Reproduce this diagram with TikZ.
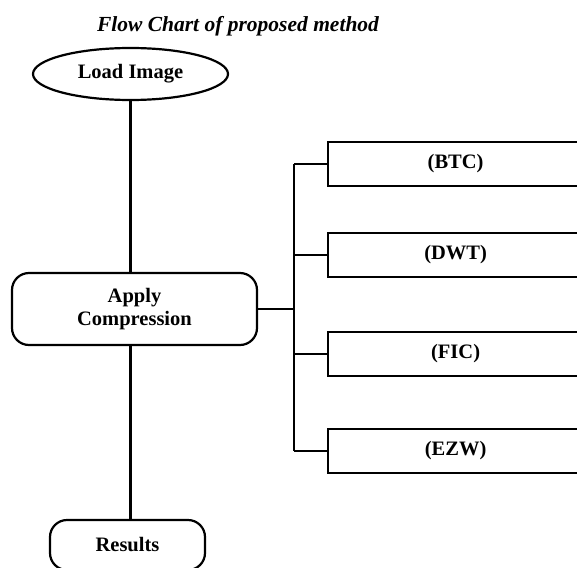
\documentclass[tikz,border=0pt]{standalone}
\usepackage{fontspec}
\setmainfont{Liberation Serif}
\usetikzlibrary{shapes.geometric}

\begin{document}
\begin{tikzpicture}[x=1pt,y=-1pt,line width=2.2pt,
	lbl/.style={font=\fontsize{20.5}{23}\selectfont\bfseries},
	oval/.style={lbl,draw,ellipse,minimum width=195pt,minimum height=52pt,inner sep=0pt},
	rbox/.style={lbl,draw,rounded corners=17pt,align=center,inner sep=0pt},
	mbox/.style={lbl,draw,anchor=west,minimum width=255pt,minimum height=44pt,inner sep=0pt}]

	\useasboundingbox (0,0) rectangle (577,567);

	% title
	\node[font=\fontsize{21.5}{24}\selectfont\bfseries\itshape,anchor=base] (title) at (238,32) {Flow Chart of proposed method};

	% main column
	\node[oval] (load) at (130.5,74) {Load Image};
	\node[rbox,minimum width=245pt,minimum height=72pt] (apply) at (134.5,309) {Apply\\Compression};
	\node[rbox,minimum width=155pt,minimum height=50pt] (res) at (127.5,545) {Results};

	\draw (load.south) -- (load.south |- apply.north);
	\draw (apply.south -| load) -- (res.north -| load);

	% methods
	\node[mbox] (btc) at (327,164) {(BTC)};
	\node[mbox] (dwt) at (327,255) {(DWT)};
	\node[mbox] (fic) at (327,354) {(FIC)};
	\node[mbox] (ezw) at (327,451) {(EZW)};

	%bus
	\coordinate (bus) at (294,0);
	\draw (bus |- btc.west) -- (bus |- ezw.west);
	\draw (apply.east) -- (apply.east -| bus);
	\foreach \m in {btc,dwt,fic,ezw}
		\draw (bus |- \m.west) -- (\m.west);

\end{tikzpicture}
\end{document}
